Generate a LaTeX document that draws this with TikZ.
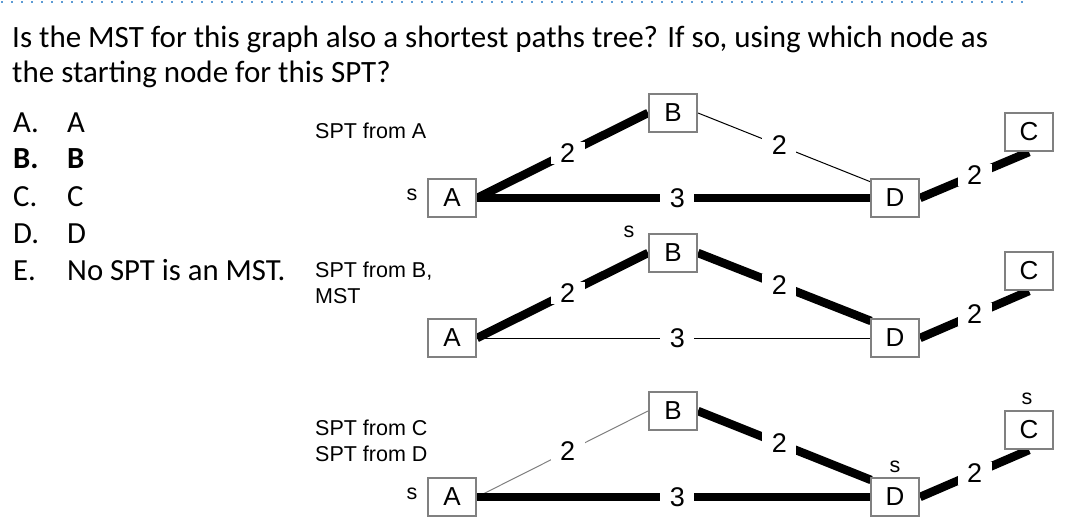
\documentclass[tikz,border=0pt]{standalone}
\usepackage{fontspec}
\setmainfont{Carlito}
\newfontfamily\arialf{Liberation Sans}
\definecolor{dotblue}{RGB}{91,155,213}
\definecolor{boxgray}{RGB}{128,128,128}
\pgfdeclarelayer{bg}
\pgfsetlayers{bg,main}
\begin{document}
\begin{tikzpicture}[x=1pt,y=-1pt,
  vtx/.style={draw=boxgray, line width=2pt, fill=white, minimum width=48pt, minimum height=38pt, inner sep=0pt, font=\arialf\fontsize{26}{26}\selectfont},
  heavy/.style={line width=8.5pt},
  lightedge/.style={line width=1pt},
  grayedge/.style={line width=1pt, draw=gray},
  wlab/.style={fill=white, inner xsep=9.5pt, inner ysep=2pt, font=\arialf\fontsize{27}{27}\selectfont},
  qtext/.style={anchor=base west, inner sep=0pt, font=\fontsize{31}{31}\selectfont},
  atext/.style={anchor=base west, inner sep=0pt, font=\fontsize{30.7}{30.7}\selectfont},
  glabel/.style={anchor=base west, inner sep=0pt, font=\arialf\fontsize{21.5}{21.5}\selectfont},
  slabel/.style={anchor=base, inner sep=0pt, font=\arialf\fontsize{21.5}{21.5}\selectfont}
]
\useasboundingbox (0,0) rectangle (1074,527);
\begin{pgfonlayer}{bg}
\fill[white] (0,0) rectangle (1074,527);
\end{pgfonlayer}
\draw[dotblue, line width=2pt, dash pattern=on 2pt off 8pt] (1,2) -- (1030,2);

% question
\node[qtext] (q1) at (12,48) {Is the MST for this graph also a shortest paths tree? If so, using which node as};
\node[qtext] (q2) at (12,83) {the starting node for this SPT?};

% answers
\node[atext] (la) at (13,132) {A.};   \node[atext] (ta) at (67,132) {A};
\node[atext] (lb) at (13,168) {\bfseries B.}; \node[atext] (tb) at (67,168) {\bfseries B};
\node[atext] (lc) at (13,206) {C.};   \node[atext] (tc) at (67,206) {C};
\node[atext] (ld) at (13,243) {D.};   \node[atext] (td) at (67,243) {D};
\node[atext] (le) at (13,280) {E.};   \node[atext] (te) at (67,280) {No SPT is an MST.};

% graph labels
\node[glabel] (g1) at (315,138) {SPT from A};
\node[glabel] (g2a) at (315,277) {SPT from B,};
\node[glabel] (g2b) at (315,303) {MST};
\node[glabel] (g3a) at (315,435) {SPT from C};
\node[glabel] (g3b) at (315,461) {SPT from D};

% graph 1
\node[vtx] (A1) at (452,198) {A};
\node[vtx] (B1) at (673,113) {B};
\node[vtx] (D1) at (895,198) {D};
\node[vtx] (C1) at (1029,132) {C};
\node[slabel] (s1) at (412,200) {s};
% graph 2
\node[vtx] (A2) at (452,338) {A};
\node[vtx] (B2) at (673,253) {B};
\node[vtx] (D2) at (895,338) {D};
\node[vtx] (C2) at (1029,271) {C};
\node[slabel] (s2) at (629,237) {s};
% graph 3
\node[vtx] (A3) at (452,497) {A};
\node[vtx] (B3) at (673,411) {B};
\node[vtx] (D3) at (895,497) {D};
\node[vtx] (C3) at (1029,430) {C};
\node[slabel] (s3) at (412,499) {s};
\node[slabel] (s4) at (895,472) {s};
\node[slabel] (s5) at (1027,404) {s};

\begin{pgfonlayer}{bg}
% graph 1
\draw[heavy] (A1.east) -- node[wlab, pos=0.53] {2} (B1.west);
\draw[heavy] (A1.east) -- node[wlab, pos=0.51] {3} (D1.west);
\draw[lightedge] (B1.east) -- node[wlab, pos=0.47] {2} ([shift={(1,4)}]D1.north west);
\draw[heavy] (D1.east) -- node[wlab, pos=0.5] {2} (C1.south);
% graph 2
\draw[heavy] (A2.east) -- node[wlab, pos=0.53] {2} (B2.west);
\draw[lightedge] (A2.east) -- node[wlab, pos=0.51] {3} (D2.west);
\draw[heavy] (B2.east) -- node[wlab, pos=0.47] {2} ([shift={(1,3)}]D2.north west);
\draw[heavy] (D2.east) -- node[wlab, pos=0.5] {2} (C2.south);
% graph 3
\draw[grayedge] (A3.east) -- node[wlab, pos=0.53] {2} (B3.west);
\draw[heavy] (A3.east) -- node[wlab, pos=0.51] {3} (D3.west);
\draw[heavy] (B3.east) -- node[wlab, pos=0.47] {2} ([shift={(1,3)}]D3.north west);
\draw[heavy] (D3.east) -- node[wlab, pos=0.5] {2} (C3.south);
\end{pgfonlayer}
\end{tikzpicture}
\end{document}
